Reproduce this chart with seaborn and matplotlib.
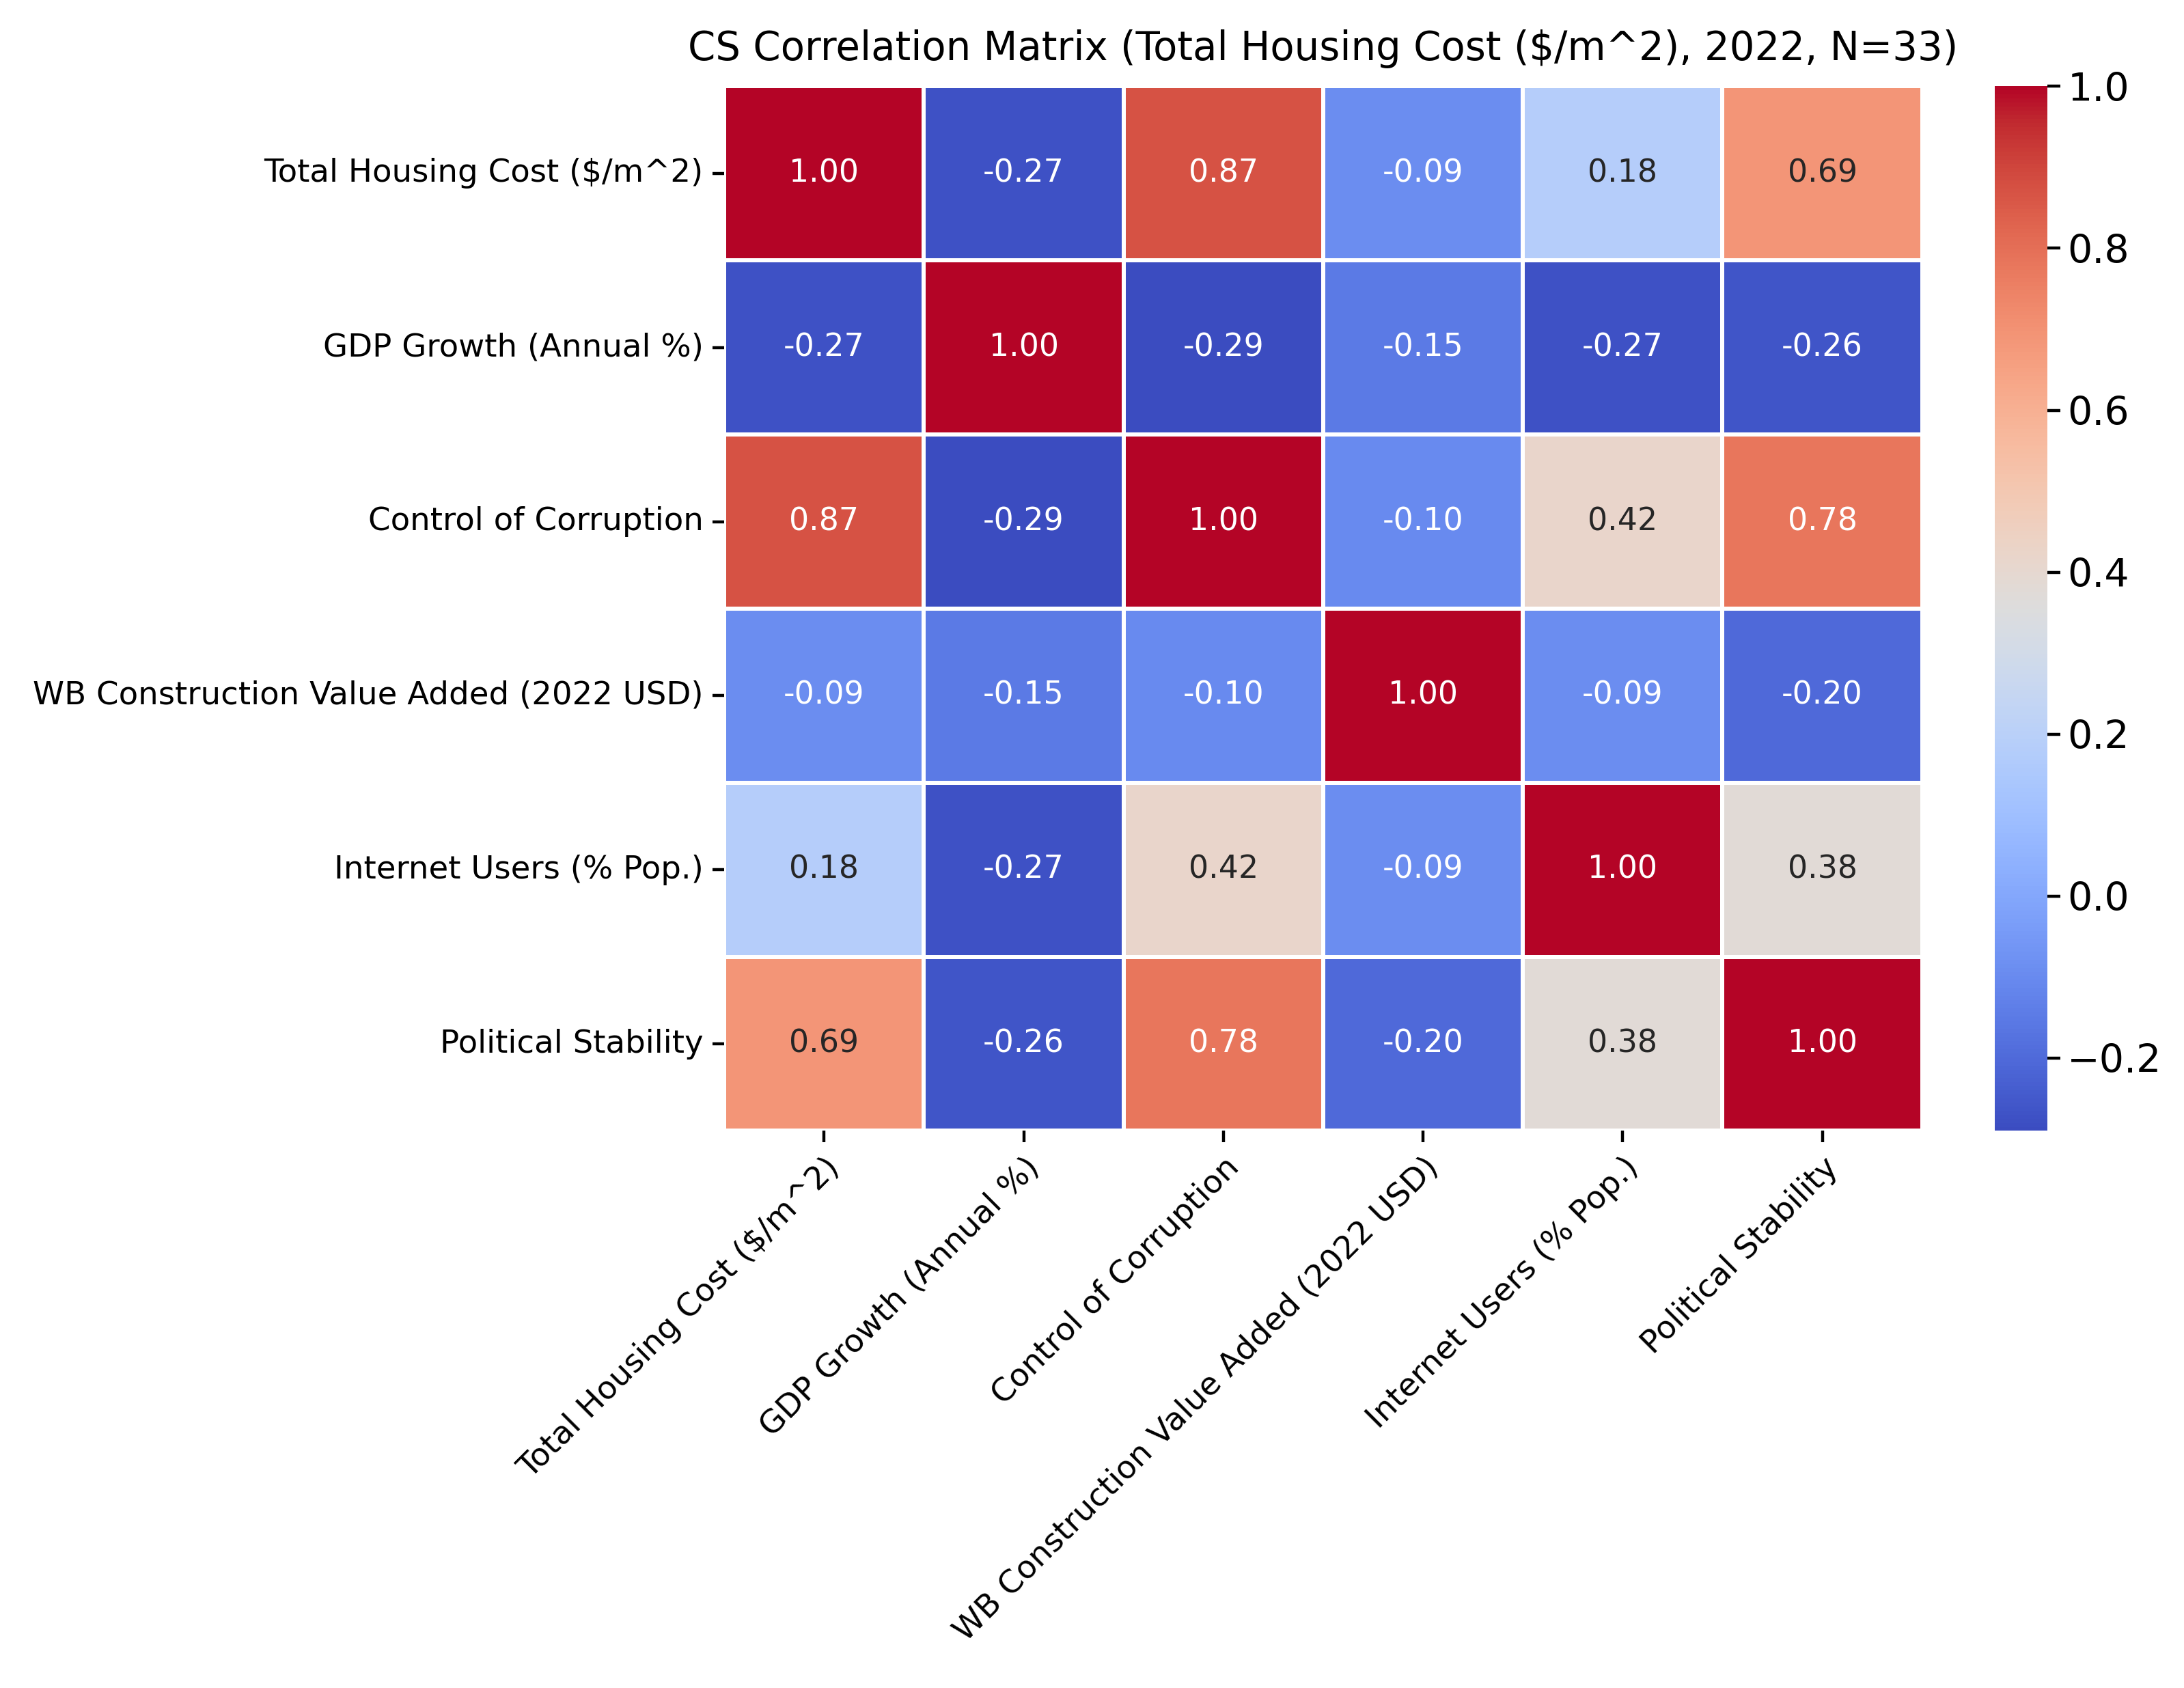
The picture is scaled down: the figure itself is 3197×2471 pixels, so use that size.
import numpy as np
import pandas as pd
import matplotlib
matplotlib.use("Agg")
import matplotlib.pyplot as plt
import seaborn as sns

labels = [
    "Total Housing Cost ($/m^2)",
    "GDP Growth (Annual %)",
    "Control of Corruption",
    "WB Construction Value Added (2022 USD)",
    "Internet Users (% Pop.)",
    "Political Stability",
]
row_housing = [1.00, -0.27, 0.87, -0.09, 0.18, 0.69]
row_gdp = [-0.27, 1.00, -0.29, -0.15, -0.27, -0.26]
row_corruption = [0.87, -0.29, 1.00, -0.10, 0.42, 0.78]
row_construction = [-0.09, -0.15, -0.10, 1.00, -0.09, -0.20]
row_internet = [0.18, -0.27, 0.42, -0.09, 1.00, 0.38]
row_stability = [0.69, -0.26, 0.78, -0.20, 0.38, 1.00]
title = "CS Correlation Matrix (Total Housing Cost ($/m^2), 2022, N=33)"

corr = pd.DataFrame(
    [row_housing, row_gdp, row_corruption, row_construction, row_internet, row_stability],
    index=labels, columns=labels,
)

plt.rcParams['font.family'] = ['DejaVu Sans']
fig = plt.figure(figsize=(3197 / 200, 2471 / 200), dpi=200)
W, H = 1568.0, 1212.0
ax = fig.add_axes([520 / W, 1 - 812 / H, (1380 - 520) / W, (812 - 62) / H])
cax = fig.add_axes([1432 / W, 1 - 812 / H, (1470 - 1432) / W, (812 - 62) / H])

sns.heatmap(corr, ax=ax, cbar_ax=cax, cmap="coolwarm", annot=True, fmt=".2f",
            linewidths=1.5, linecolor="white", annot_kws={"size": 16.5})

ax.set_title(title, fontsize=20.8, pad=14)
ax.tick_params(axis="both", labelsize=16.8, length=6, width=1.6, pad=5)
ax.set_xticklabels(labels, rotation=45, ha="right", rotation_mode="anchor", fontsize=16.8)
ax.set_yticklabels(labels, rotation=0, fontsize=16.8)
cax.tick_params(labelsize=20.5, length=7, width=1.6)
cax.yaxis.set_ticks([-0.2, 0.0, 0.2, 0.4, 0.6, 0.8, 1.0])
for s in cax.spines.values():
    s.set_visible(False)

fig.savefig("out.png", dpi=200)
